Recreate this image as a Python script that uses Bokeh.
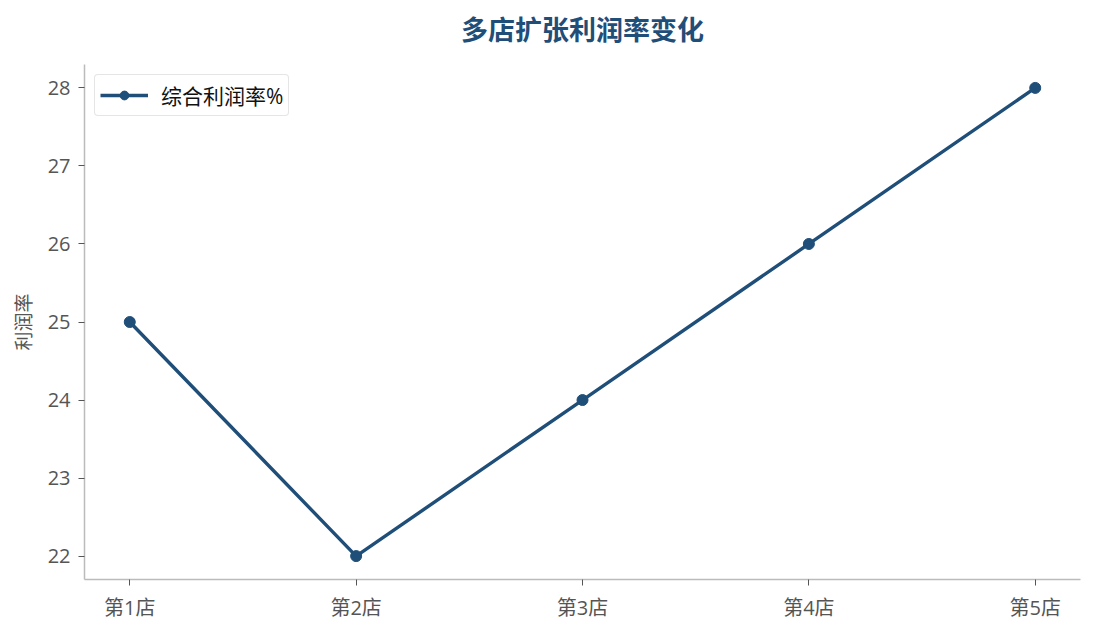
from bokeh.plotting import figure
from bokeh.models import ColumnDataSource, FixedTicker, Range1d, Legend, LegendItem, Title, Spacer
from bokeh.layouts import row
from bokeh.embed import file_html
from bokeh.resources import INLINE

categories = ["第1店", "第2店", "第3店", "第4店", "第5店"]
profit_rate = [25, 22, 24, 26, 28]
y_ticks = [22, 23, 24, 25, 26, 27, 28]

FONT = "'Open Sans', 'Noto Sans CJK SC'"
CJK = "Noto Sans CJK SC"
COLOR = "#1f4e79"

x_idx = list(range(len(categories)))
src = ColumnDataSource(dict(x=x_idx, y=profit_rate, cat=categories))

p = figure(width=1072, height=614, output_backend="svg", toolbar_location=None,
           x_range=Range1d(-0.2, len(categories) - 1 + 0.2),
           y_range=Range1d(21.7, 28.3),
           frame_width=996, frame_height=515,
           min_border_left=0, min_border_right=5, min_border_top=0, min_border_bottom=0)

p.title.text = "多店扩张利润率变化"
p.title.align = "center"
p.title.text_font = CJK
p.title.text_font_size = "27px"
p.title.text_font_style = "bold"
p.title.text_color = COLOR
p.title.standoff = 13

gap = Title(text=" ", text_font_size="1px", standoff=7)
p.add_layout(gap, "above")

p.grid.visible = False
p.outline_line_color = None

for ax in (p.xaxis[0], p.yaxis[0]):
    ax.axis_line_color = "#bbbbbb"
    ax.axis_line_width = 1.5
    ax.major_tick_line_color = "#555555"
    ax.major_tick_out = 6
    ax.major_tick_in = 0
    ax.minor_tick_out = 0
    ax.minor_tick_in = 0
    ax.major_label_text_font = FONT
    ax.major_label_text_font_size = "20px"
    ax.major_label_text_color = "#555555"
    ax.major_label_standoff = 8

p.xaxis.ticker = FixedTicker(ticks=x_idx)
p.xaxis.major_label_overrides = {i: c for i, c in enumerate(categories)}
p.yaxis.ticker = FixedTicker(ticks=y_ticks)
p.yaxis.axis_label = "利润率"
p.yaxis.axis_label_text_font = FONT
p.yaxis.axis_label_text_font_size = "19px"
p.yaxis.axis_label_text_font_style = "normal"
p.yaxis.axis_label_text_color = "#555555"
p.yaxis.axis_label_standoff = 8

r_line = p.line("x", "y", source=src, line_color=COLOR, line_width=3.4)
r_pts = p.scatter("x", "y", source=src, size=11, fill_color=COLOR, line_color=COLOR)

legend = Legend(items=[LegendItem(label="综合利润率%", renderers=[r_line, r_pts])],
                location="top_left")
legend.label_text_font = FONT
legend.label_text_font_size = "21px"
legend.label_text_color = "#111111"
legend.border_line_color = "#cccccc"
legend.border_line_width = 1.5
legend.border_radius = 4
legend.padding = 5
legend.margin = 10
legend.glyph_width = 48
legend.glyph_height = 22
legend.label_standoff = 13
legend.label_height = 22
legend.spacing = 0
p.add_layout(legend)

layout = row(Spacer(width=7, height=10), p)
open("out.html", "w").write(file_html(layout, INLINE))
